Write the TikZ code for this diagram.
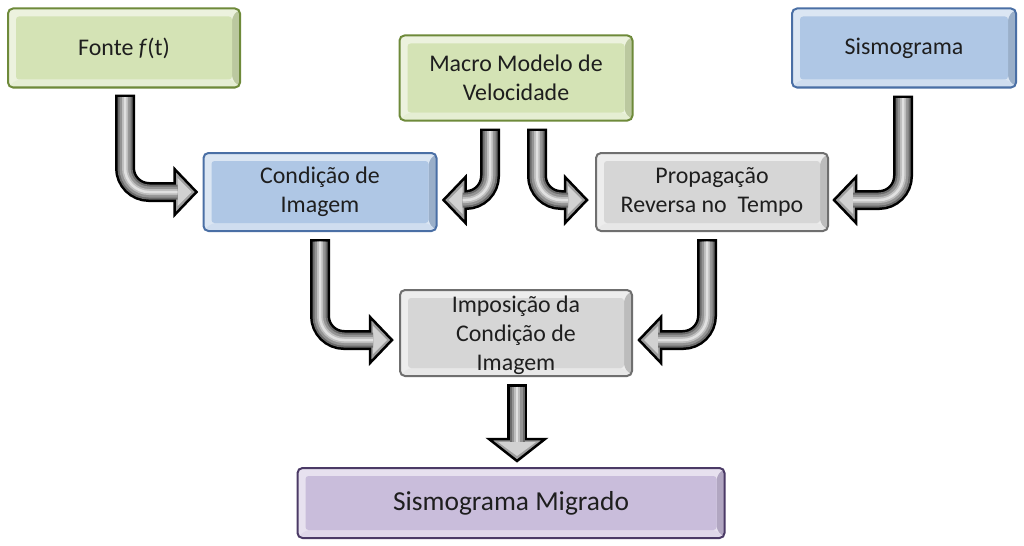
\documentclass[tikz,border=0pt]{standalone}
\usepackage{fontspec}
\setmainfont{Carlito}
\usetikzlibrary{calc}
\definecolor{gface}{HTML}{D4E3B5}
\definecolor{gbd}{HTML}{6E8A3A}
\definecolor{bface}{HTML}{AFC7E5}
\definecolor{bbd}{HTML}{4A6FA5}
\definecolor{yface}{HTML}{D6D6D6}
\definecolor{ybd}{HTML}{6F6F6F}
\definecolor{pface}{HTML}{C9BDDB}
\definecolor{pbd}{HTML}{4B3A66}
\definecolor{txt}{HTML}{1E1E1E}
\def\pxu{0.025cm}
\tikzset{
  box/.style 2 args={draw=#1, fill=#2!45!white, line width=2*\pxu, rounded corners=5*\pxu,
    inner sep=0pt, align=center, text=txt, font=\fontsize{17}{20.8}\selectfont,
    path picture={
      \fill[#2!88!black] (path picture bounding box.north east) -- (path picture bounding box.south east)
        -- ([shift={(-8,-8)}]path picture bounding box.south east) -- ([shift={(-8,8)}]path picture bounding box.north east) -- cycle;
      \fill[#2!60!white] (path picture bounding box.south west) -- (path picture bounding box.south east)
        -- ([shift={(-8,-8)}]path picture bounding box.south east) -- ([shift={(8,-8)}]path picture bounding box.south west) -- cycle;
      \fill[#2, rounded corners=3*\pxu] ([shift={(8,8)}]path picture bounding box.north west) rectangle ([shift={(-8,-8)}]path picture bounding box.south east);
    }},
  tubeA/.style={draw=black, line width=20*\pxu, rounded corners=24*\pxu},
  tubeIn/.style={line width=#1*\pxu, rounded corners=24*\pxu, shorten <=2.5*\pxu, shorten >=-3*\pxu},
  headsty/.style={draw=black, fill=black!38, line width=2.5*\pxu, line join=miter},
}
\newcommand\tubearrow[4][23]{%
  \draw[tubeA] #2;
  \draw[headsty, shift={(#3)}, rotate=#4] (0,0) -- (-22,-#1) -- (-22,#1) -- cycle;
  \fill[black!18, shift={(#3)}, rotate=#4] (-5,0) -- (-19,-#1+9) -- (-19,#1-9) -- cycle;
  \draw[tubeIn=15, draw=black!58] #2;
  \draw[tubeIn=11, draw=black!42] #2;
  \draw[tubeIn=6, draw=black!26] #2;
  \draw[tubeIn=2.5, draw=black!12] #2;
}
\begin{document}
\begin{tikzpicture}[x=0.025cm,y=-0.025cm]
\useasboundingbox[fill=white] (0,0) rectangle (1024,545);

\node[box={gbd}{gface}, minimum width=232*\pxu, minimum height=79*\pxu] (fonte) at (124,48) {Fonte \textit{f}(t)};
\node[box={gbd}{gface}, minimum width=233*\pxu, minimum height=85*\pxu] (macro) at (516,78) {Macro Modelo de\\Velocidade};
\node[box={bbd}{bface}, minimum width=224*\pxu, minimum height=79*\pxu] (sism) at (904,48) {Sismograma};
\node[box={bbd}{bface}, minimum width=233*\pxu, minimum height=78*\pxu] (cond) at (320,192) {Condição de\\Imagem};
\node[box={ybd}{yface}, minimum width=232*\pxu, minimum height=78*\pxu] (prop) at (712,192) {Propagação\\Reversa no~~Tempo};
\node[box={ybd}{yface}, minimum width=232*\pxu, minimum height=86*\pxu, text depth=-6*\pxu] (impos) at (516,333) {Imposição da\\Condição de\\Imagem};
\node[box={pbd}{pface}, minimum width=427*\pxu, minimum height=70*\pxu, font=\fontsize{19.5}{23}\selectfont] (migr) at (511,503) {Sismograma Migrado};

% arrow 1: fonte -> cond
\coordinate (t1) at ($(cond.west)+(-6,0)$);
\coordinate (b1) at ($(t1)+(-22,0)$);
\tubearrow{($(fonte.south)+(1,6)$) |- (b1)}{t1}{0}
% arrow 2: macro -> cond
\coordinate (t2) at ($(cond.east)+(6,8)$);
\coordinate (b2) at ($(t2)+(22,0)$);
\tubearrow{($(macro.south)+(-26,7)$) |- (b2)}{t2}{180}
% arrow 3: macro -> prop
\coordinate (t3) at ($(prop.west)+(-8,8)$);
\coordinate (b3) at ($(t3)+(-22,0)$);
\tubearrow{($(macro.south)+(21,7)$) |- (b3)}{t3}{0}
% arrow 4: sism -> prop
\coordinate (t4) at ($(prop.east)+(5,8)$);
\coordinate (b4) at ($(t4)+(22,0)$);
\tubearrow{($(sism.south)+(-1,7)$) |- (b4)}{t4}{180}
% arrow 5: cond -> impos
\coordinate (t5) at ($(impos.west)+(-7,7)$);
\coordinate (b5) at ($(t5)+(-22,0)$);
\tubearrow{($(cond.south)+(0,7)$) |- (b5)}{t5}{0}
% arrow 6: prop -> impos
\coordinate (t6) at ($(impos.east)+(6,7)$);
\coordinate (b6) at ($(t6)+(22,0)$);
\tubearrow{($(prop.south)+(-5,7)$) |- (b6)}{t6}{180}
% arrow 7: impos -> migr
\coordinate (t7) at ($(impos.south |- migr.north)+(1,-6)$);
\coordinate (b7) at ($(t7)+(0,-22)$);
\tubearrow[28]{($(impos.south)+(1,7)$) -- (b7)}{t7}{-90}
\end{tikzpicture}
\end{document}
